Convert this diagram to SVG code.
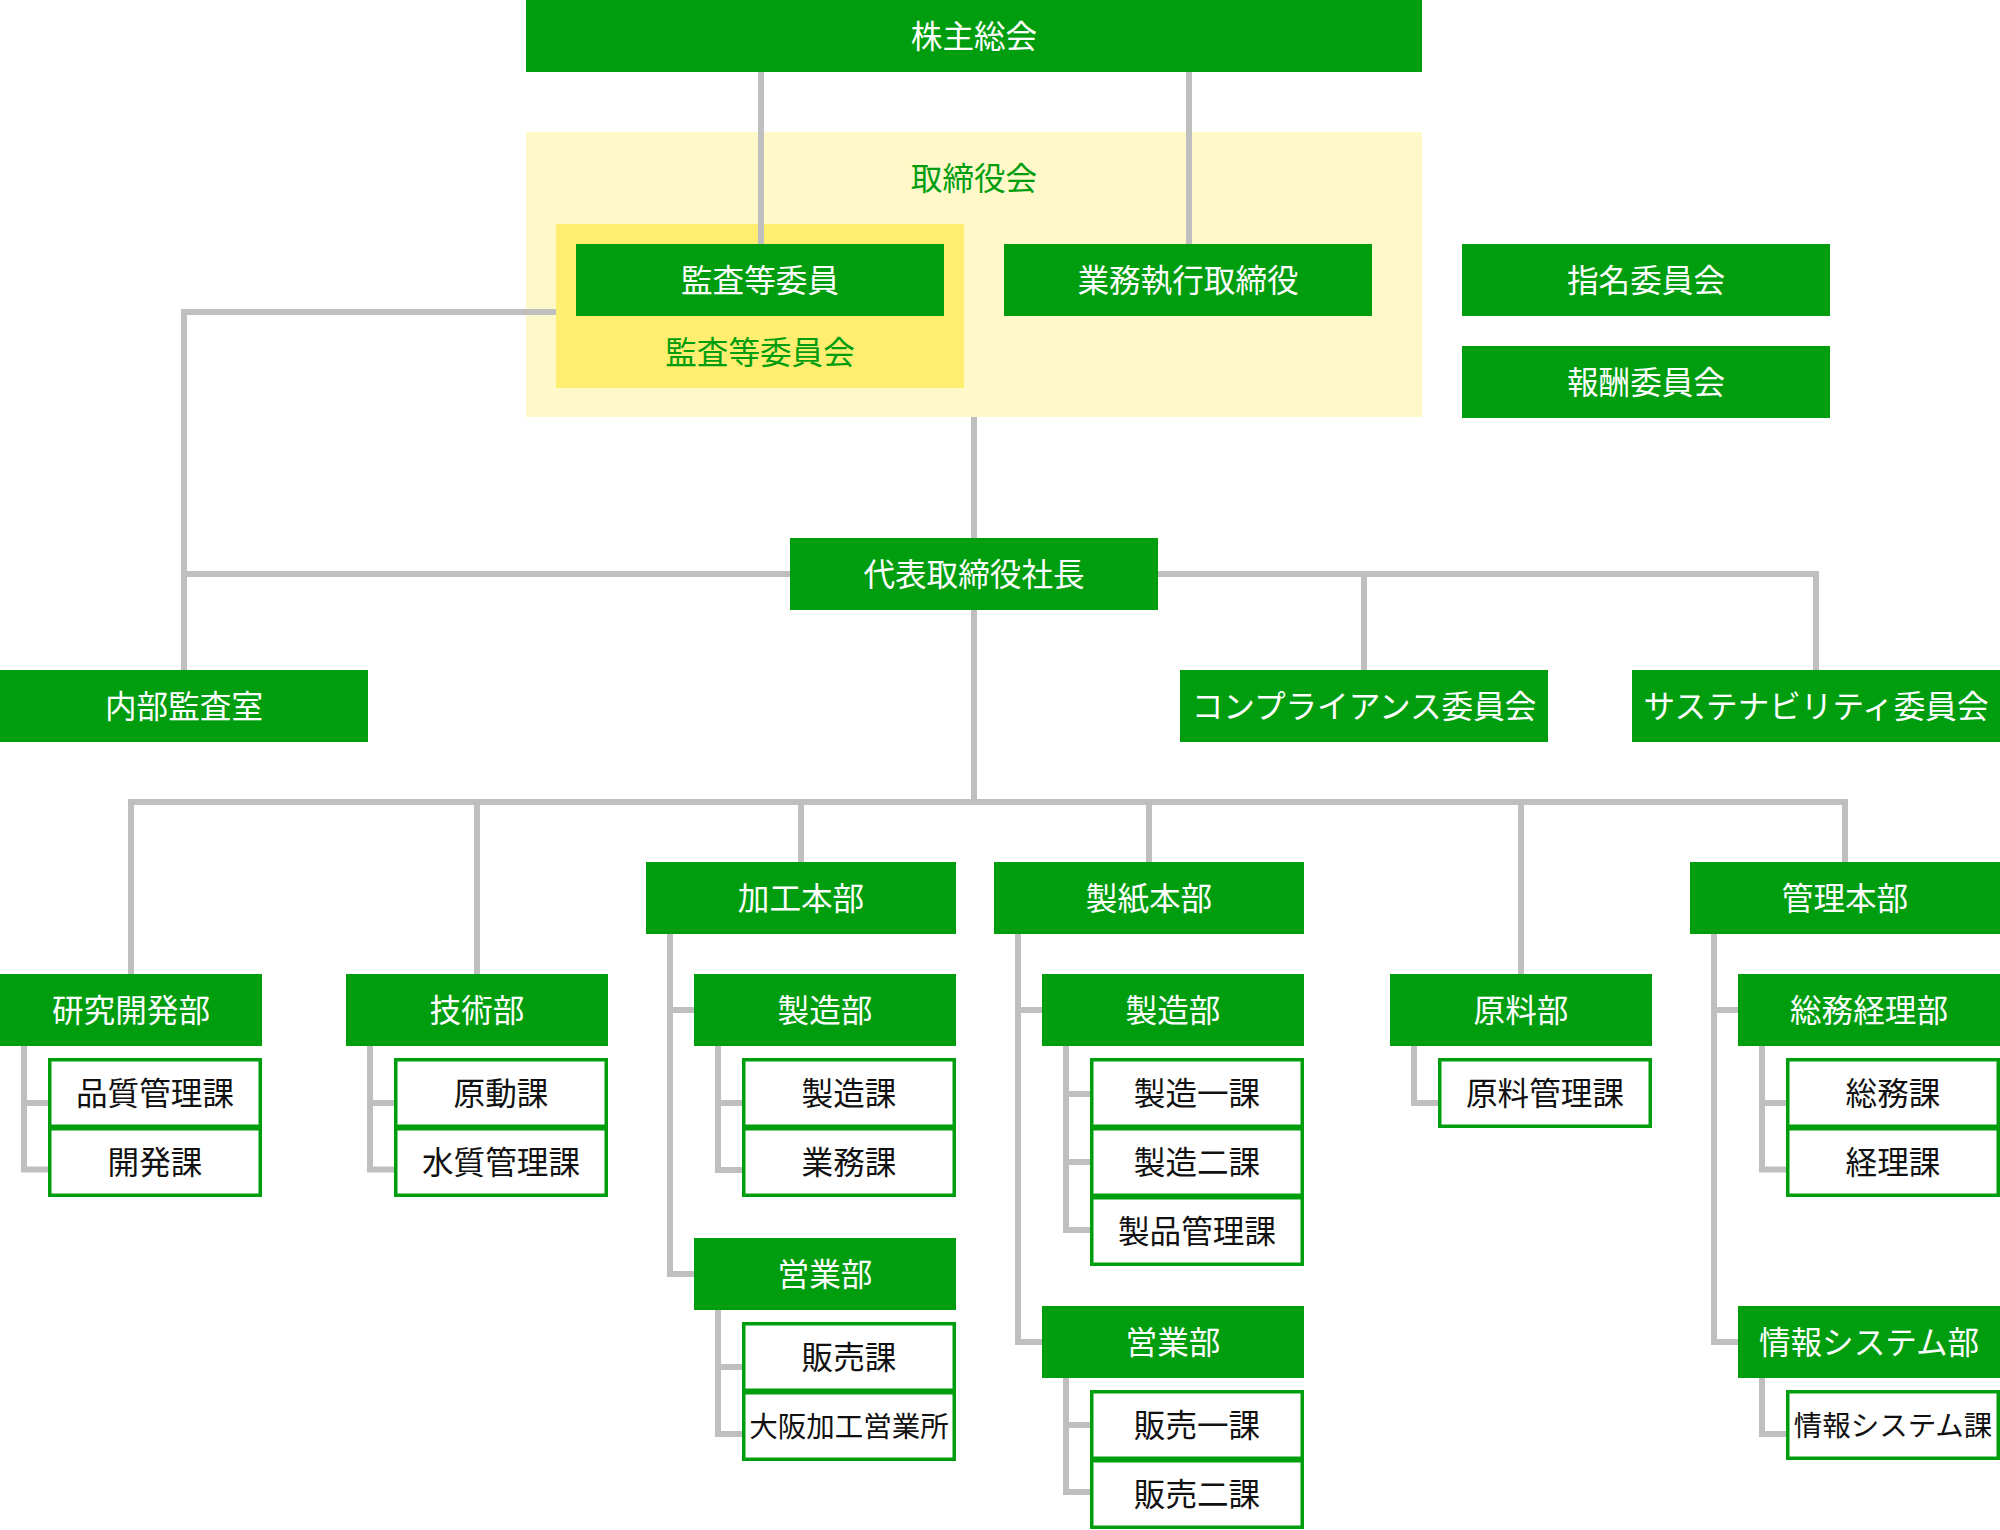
<svg xmlns="http://www.w3.org/2000/svg" width="2000" height="1530" viewBox="0 0 2000 1530">
<style>
.box{fill:#009e0f}
.sub{fill:#ffffff;stroke:#009e0f;stroke-width:3.5}
text{font-family:"Noto Sans CJK JP","Noto Sans",sans-serif;font-size:31.6px;text-anchor:middle}
.wt{fill:#ffffff}
.bt{fill:#111111}
.gt{fill:#009e0f}
.sm{font-size:28.5px}
.ln{fill:none;stroke:#bfbfbf;stroke-width:6;stroke-linejoin:miter;stroke-linecap:butt}
</style>
<rect width="2000" height="1530" fill="#ffffff"/>
<g id="board">
<rect x="526" y="132" width="896" height="285" fill="#fff8c9"/>
<text class="gt" x="974" y="190">取締役会</text>
</g>
<g id="audit-committee">
<rect x="556" y="224" width="408" height="164" fill="#ffee70"/>
<text class="gt" x="760" y="364">監査等委員会</text>
</g>
<g id="connectors">
<path class="ln" d="M761,72V244M1189,72V244"/>
<path class="ln" d="M556,312H184V670"/>
<path class="ln" d="M974,417V538"/>
<path class="ln" d="M790,574H184"/>
<path class="ln" d="M1158,574H1816V670M1364,574V670"/>
<path class="ln" d="M974,610V802"/>
<path class="ln" d="M131,974V802H1845V862M477,802V974M801,802V862M1149,802V862M1521,802V974"/>
<path class="ln" d="M24,1046V1169.5H48M24,1103H48"/>
<path class="ln" d="M370,1046V1169.5H394M370,1103H394"/>
<path class="ln" d="M670,934V1274H694M670,1010H694"/>
<path class="ln" d="M718,1046V1170H742M718,1103H742"/>
<path class="ln" d="M718,1310V1434H742M718,1367H742"/>
<path class="ln" d="M1018,934V1342H1042M1018,1010H1042"/>
<path class="ln" d="M1066,1046V1230H1090M1066,1094H1090M1066,1162H1090"/>
<path class="ln" d="M1066,1378V1492H1090M1066,1425H1090"/>
<path class="ln" d="M1414,1046V1103H1438"/>
<path class="ln" d="M1714,934V1342H1738M1714,1010H1738"/>
<path class="ln" d="M1762,1046V1169.5H1786M1762,1103H1786"/>
<path class="ln" d="M1762,1378V1434H1786"/>
</g>
<g id="shareholders"><rect class="box" x="526" y="0" width="896" height="72"/><text class="wt" x="974" y="48">株主総会</text></g>
<g id="audit-members"><rect class="box" x="576" y="244" width="368" height="72"/><text class="wt" x="760" y="292">監査等委員</text></g>
<g id="executive-directors"><rect class="box" x="1004" y="244" width="368" height="72"/><text class="wt" x="1188" y="292">業務執行取締役</text></g>
<g id="nomination"><rect class="box" x="1462" y="244" width="368" height="72"/><text class="wt" x="1646" y="292">指名委員会</text></g>
<g id="remuneration"><rect class="box" x="1462" y="346" width="368" height="72"/><text class="wt" x="1646" y="394">報酬委員会</text></g>
<g id="president"><rect class="box" x="790" y="538" width="368" height="72"/><text class="wt" x="974" y="586">代表取締役社長</text></g>
<g id="internal-audit"><rect class="box" x="0" y="670" width="368" height="72"/><text class="wt" x="184" y="718">内部監査室</text></g>
<g id="compliance"><rect class="box" x="1180" y="670" width="368" height="72"/><text class="wt" x="1364" y="718">コンプライアンス委員会</text></g>
<g id="sustainability"><rect class="box" x="1632" y="670" width="368" height="72"/><text class="wt" x="1816" y="718">サステナビリティ委員会</text></g>
<g id="rnd">
<rect class="box" x="0" y="974" width="262" height="72"/><text class="wt" x="131" y="1022">研究開発部</text>
<rect class="sub" x="49.75" y="1059.75" width="210.5" height="66.5"/><text class="bt" x="155" y="1105">品質管理課</text>
<rect class="sub" x="49.75" y="1128.75" width="210.5" height="66.5"/><text class="bt" x="155" y="1174">開発課</text>
</g>
<g id="engineering">
<rect class="box" x="346" y="974" width="262" height="72"/><text class="wt" x="477" y="1022">技術部</text>
<rect class="sub" x="395.75" y="1059.75" width="210.5" height="66.5"/><text class="bt" x="501" y="1105">原動課</text>
<rect class="sub" x="395.75" y="1128.75" width="210.5" height="66.5"/><text class="bt" x="501" y="1174">水質管理課</text>
</g>
<g id="converting-hq">
<rect class="box" x="646" y="862" width="310" height="72"/><text class="wt" x="801" y="910">加工本部</text>
</g>
<g id="converting-mfg">
<rect class="box" x="694" y="974" width="262" height="72"/><text class="wt" x="825" y="1022">製造部</text>
<rect class="sub" x="743.75" y="1059.75" width="210.5" height="66.5"/><text class="bt" x="849" y="1105">製造課</text>
<rect class="sub" x="743.75" y="1128.75" width="210.5" height="66.5"/><text class="bt" x="849" y="1174">業務課</text>
</g>
<g id="converting-sales">
<rect class="box" x="694" y="1238" width="262" height="72"/><text class="wt" x="825" y="1286">営業部</text>
<rect class="sub" x="743.75" y="1323.75" width="210.5" height="66.5"/><text class="bt" x="849" y="1369">販売課</text>
<rect class="sub" x="743.75" y="1392.75" width="210.5" height="66.5"/><text class="bt sm" x="849" y="1437">大阪加工営業所</text>
</g>
<g id="paper-hq">
<rect class="box" x="994" y="862" width="310" height="72"/><text class="wt" x="1149" y="910">製紙本部</text>
</g>
<g id="paper-mfg">
<rect class="box" x="1042" y="974" width="262" height="72"/><text class="wt" x="1173" y="1022">製造部</text>
<rect class="sub" x="1091.75" y="1059.75" width="210.5" height="66.5"/><text class="bt" x="1197" y="1105">製造一課</text>
<rect class="sub" x="1091.75" y="1128.75" width="210.5" height="66.5"/><text class="bt" x="1197" y="1174">製造二課</text>
<rect class="sub" x="1091.75" y="1197.75" width="210.5" height="66.5"/><text class="bt" x="1197" y="1243">製品管理課</text>
</g>
<g id="paper-sales">
<rect class="box" x="1042" y="1306" width="262" height="72"/><text class="wt" x="1173" y="1354">営業部</text>
<rect class="sub" x="1091.75" y="1391.75" width="210.5" height="66.5"/><text class="bt" x="1197" y="1437">販売一課</text>
<rect class="sub" x="1091.75" y="1460.75" width="210.5" height="66.5"/><text class="bt" x="1197" y="1506">販売二課</text>
</g>
<g id="raw-materials">
<rect class="box" x="1390" y="974" width="262" height="72"/><text class="wt" x="1521" y="1022">原料部</text>
<rect class="sub" x="1439.75" y="1059.75" width="210.5" height="66.5"/><text class="bt" x="1545" y="1105">原料管理課</text>
</g>
<g id="admin-hq">
<rect class="box" x="1690" y="862" width="310" height="72"/><text class="wt" x="1845" y="910">管理本部</text>
</g>
<g id="general-accounting">
<rect class="box" x="1738" y="974" width="262" height="72"/><text class="wt" x="1869" y="1022">総務経理部</text>
<rect class="sub" x="1787.75" y="1059.75" width="210.5" height="66.5"/><text class="bt" x="1893" y="1105">総務課</text>
<rect class="sub" x="1787.75" y="1128.75" width="210.5" height="66.5"/><text class="bt" x="1893" y="1174">経理課</text>
</g>
<g id="information-systems">
<rect class="box" x="1738" y="1306" width="262" height="72"/><text class="wt" x="1869" y="1354">情報システム部</text>
<rect class="sub" x="1787.75" y="1391.75" width="210.5" height="66.5"/><text class="bt sm" x="1893" y="1436">情報システム課</text>
</g>
</svg>
